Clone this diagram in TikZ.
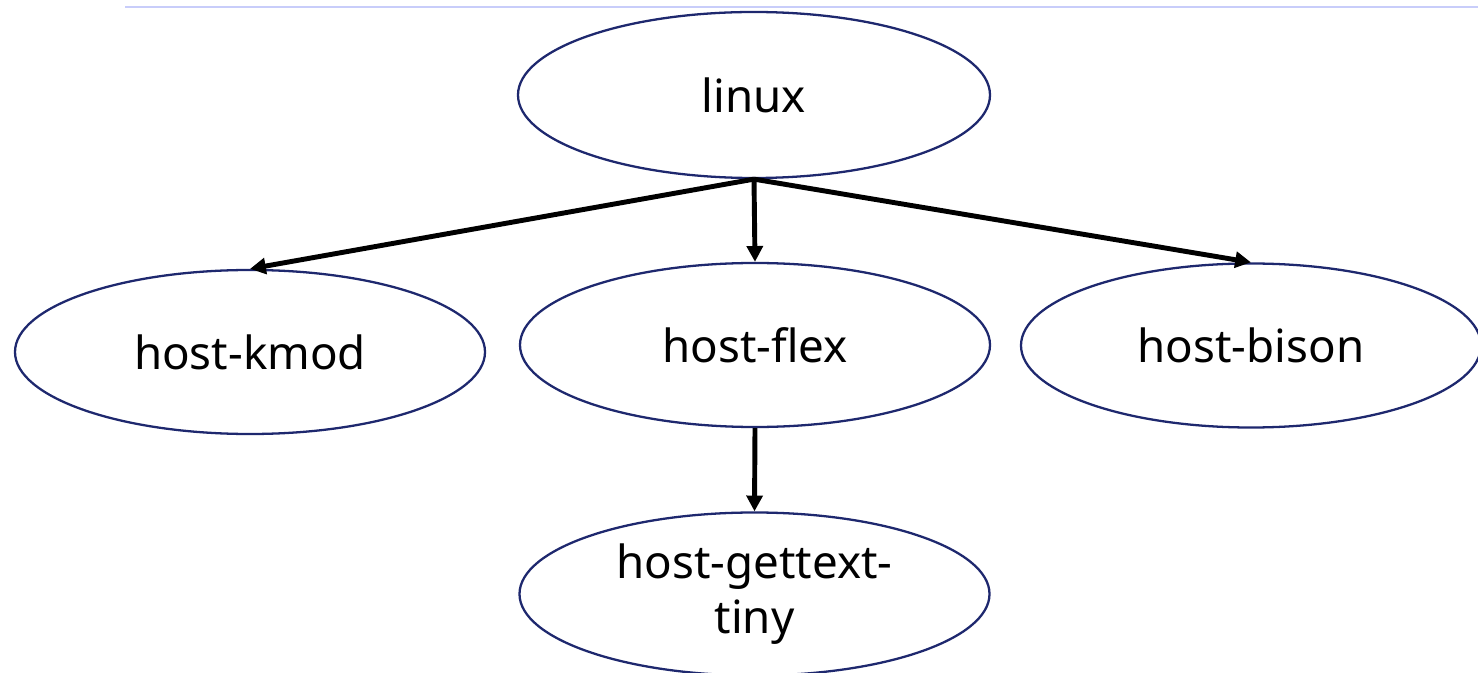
\documentclass[tikz,border=0pt]{standalone}
\usepackage{fontspec}
\setmainfont{Noto Sans}
\usepackage{tikz}
\usetikzlibrary{shapes.geometric}
\usetikzlibrary{arrows.meta}
\definecolor{pkgline}{RGB}{30,40,110}
\definecolor{rulecol}{RGB}{200,205,250}
\tikzset{
	pkg/.style={ellipse, draw=pkgline, line width=1.3pt, minimum width=9.4cm, minimum height=3.28cm, inner sep=0pt, align=center, font=\fontsize{26}{31}\selectfont},
	dep/.style={line width=2.8pt, -{Triangle[length=9pt,width=9pt]}}
}
\begin{document}
\begin{tikzpicture}
				\useasboundingbox (0,0) rectangle (29.56,-13.46);
				\draw[rulecol, line width=1.2pt] (2.5,-0.14) -- (29.56,-0.14);
				
				\node[pkg, minimum width=9.44cm, minimum height=3.32cm] (linux) at (15.08,-1.90) {linux};
				\node[pkg] (kmod) at (5.00,-7.04) {host-kmod};
				\node[pkg] (flex) at (15.10,-6.90) {host-flex};
				\node[pkg, minimum width=9.2cm] (bison) at (25.02,-6.91) {host-bison};
				\node[pkg, minimum height=3.26cm] (gettext) at (15.09,-11.88) {host-gettext-\\tiny};
				
				\draw[dep] (linux.south) -- (kmod.north);
				\draw[dep] (linux.south) -- (flex.north);
				\draw[dep] (linux.south) -- (bison.north);
				\draw[dep] (flex.south) -- (gettext.north);
\end{tikzpicture}
\end{document}
